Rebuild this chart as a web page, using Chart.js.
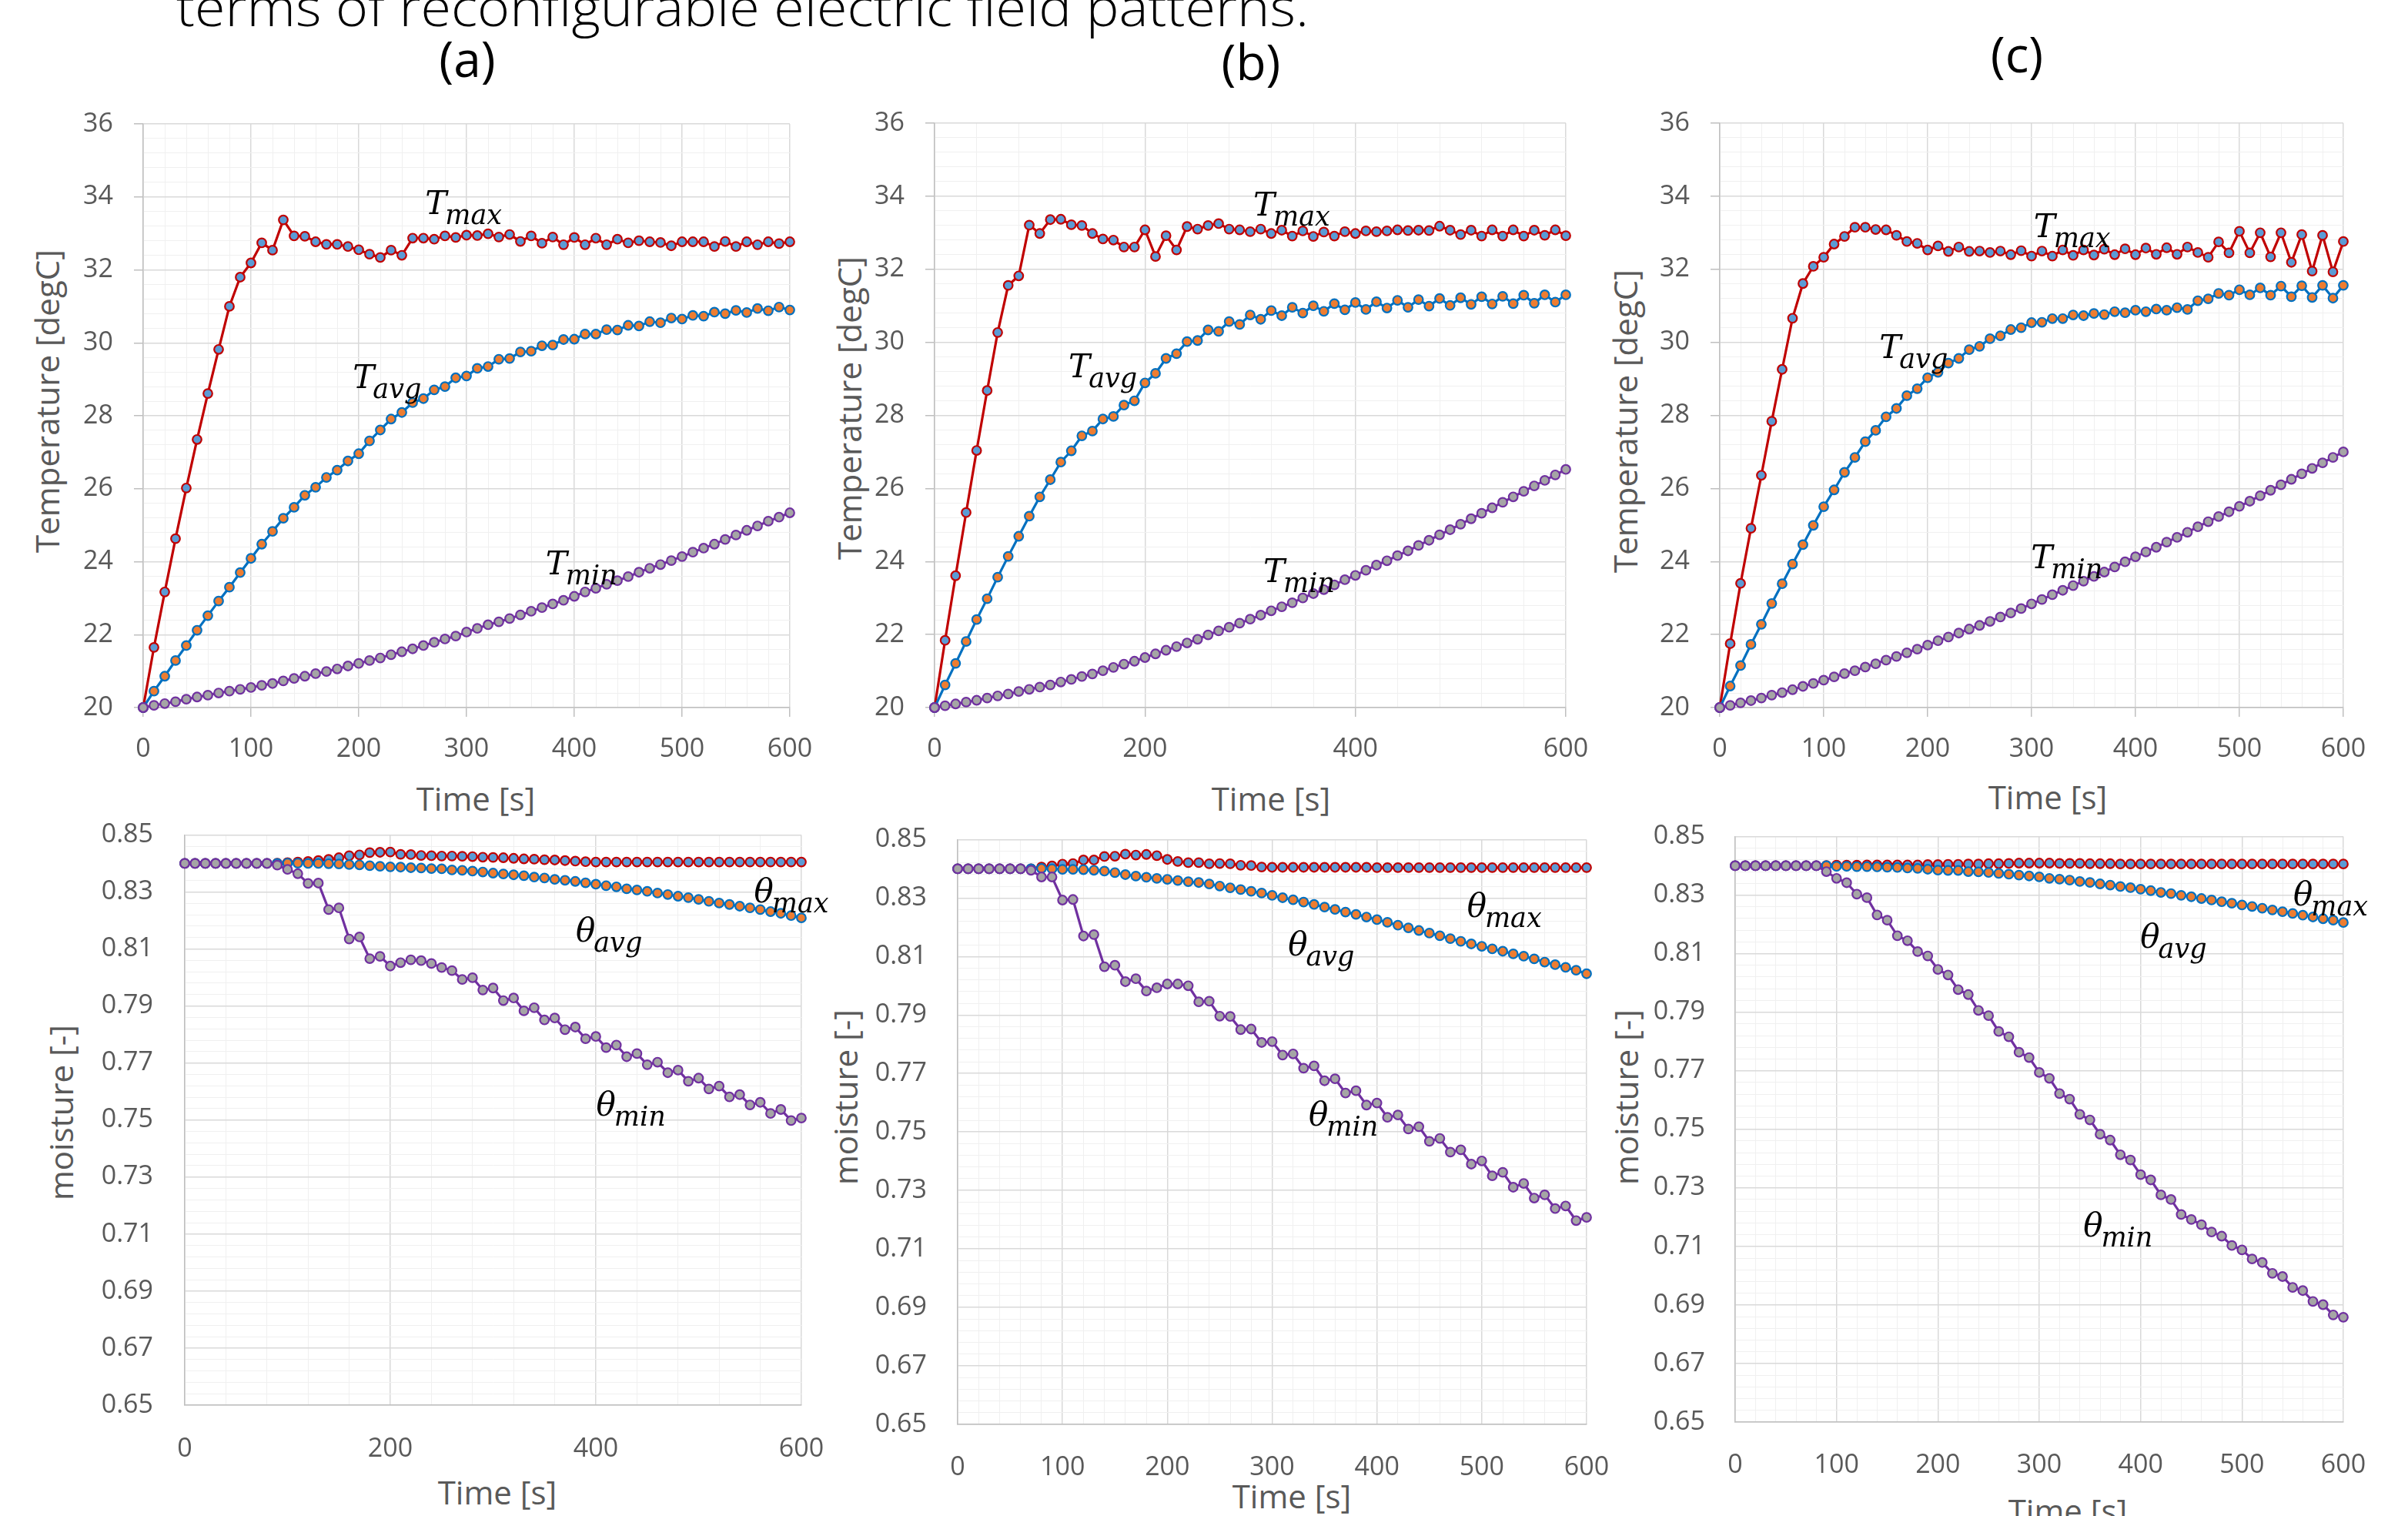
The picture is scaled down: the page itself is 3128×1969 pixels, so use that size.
<!DOCTYPE html>
<html>
<head>
<meta charset="utf-8">
<script src="https://cdn.jsdelivr.net/npm/chart.js@4.4.1/dist/chart.umd.min.js"></script>
<style>
  html, body { margin: 0; padding: 0; background: #fff; width: 3128px; height: 1969px; overflow: hidden; }
  canvas { position: absolute; }
  .txt { position: absolute; white-space: nowrap; font-family: "Open Sans"; color: #595959; font-size: 42px; line-height: 1; transform: translate(-50%, -50%); }
  .rot { transform: translate(-50%, -50%) rotate(-90deg); }
  .lbl { position: absolute; white-space: nowrap; font-family: "Open Sans"; color: #000; font-size: 64px; line-height: 1; transform: translate(-50%, -50%); }
  #head { position: absolute; left: 229px; top: -26px; white-space: nowrap; font-family: "Open Sans"; font-weight: 300; color: #000; font-size: 68px; line-height: 1; transform-origin: 0 0; }
</style>
</head>
<body>
<div id="head">terms of reconfigurable electric field patterns.</div>
<div class="lbl" style="left:607px;top:76px">(a)</div>
<div class="lbl" style="left:1625px;top:80px">(b)</div>
<div class="lbl" style="left:2620px;top:70px">(c)</div>

<div class="txt rot" style="left:61px;top:521px">Temperature [degC]</div>
<div class="txt" style="left:618px;top:1037px">Time [s]</div>
<div class="txt rot" style="left:1103px;top:530px">Temperature [degC]</div>
<div class="txt" style="left:1651px;top:1037px">Time [s]</div>
<div class="txt rot" style="left:2111px;top:547px">Temperature [degC]</div>
<div class="txt" style="left:2660px;top:1035px">Time [s]</div>

<div class="txt rot" style="left:79px;top:1445px">moisture [-]</div>
<div class="txt" style="left:646px;top:1938px">Time [s]</div>
<div class="txt rot" style="left:1098px;top:1425px">moisture [-]</div>
<div class="txt" style="left:1678px;top:1943px">Time [s]</div>
<div class="txt rot" style="left:2112px;top:1425px">moisture [-]</div>
<div class="txt" style="left:2686px;top:1962px">Time [s]</div>

<script>
// time axis (s)
const time = [0, 10, 20, 30, 40, 50, 60, 70, 80, 90, 100, 110, 120, 130, 140, 150, 160, 170, 180, 190,
  200, 210, 220, 230, 240, 250, 260, 270, 280, 290, 300, 310, 320, 330, 340, 350, 360, 370, 380, 390,
  400, 410, 420, 430, 440, 450, 460, 470, 480, 490, 500, 510, 520, 530, 540, 550, 560, 570, 580, 590, 600];

// temperature, case (a)
const tMaxA = [20, 21.65, 23.17, 24.63, 26.02, 27.35, 28.61, 29.82, 31.0, 31.8, 32.19, 32.74, 32.54, 33.37, 32.93, 32.92, 32.77, 32.70, 32.70, 32.64,
  32.55, 32.43, 32.34, 32.54, 32.40, 32.87, 32.87, 32.84, 32.93, 32.89, 32.95, 32.94, 32.99, 32.90, 32.97, 32.78, 32.93, 32.73, 32.90, 32.69,
  32.89, 32.69, 32.87, 32.69, 32.84, 32.74, 32.80, 32.77, 32.75, 32.66, 32.77, 32.77, 32.77, 32.64, 32.78, 32.64, 32.77, 32.69, 32.77, 32.72, 32.77];
const tAvgA = [20, 20.45, 20.86, 21.29, 21.70, 22.12, 22.52, 22.92, 23.30, 23.70, 24.09, 24.48, 24.83, 25.19, 25.49, 25.82, 26.04, 26.31, 26.51, 26.76,
  26.96, 27.31, 27.61, 27.91, 28.09, 28.36, 28.47, 28.71, 28.80, 29.04, 29.09, 29.30, 29.35, 29.55, 29.57, 29.75, 29.77, 29.92, 29.94, 30.09,
  30.10, 30.24, 30.24, 30.36, 30.35, 30.48, 30.46, 30.58, 30.55, 30.68, 30.65, 30.75, 30.73, 30.84, 30.80, 30.89, 30.83, 30.94, 30.88, 30.98, 30.90];
const tMinA = [20, 20.06, 20.11, 20.16, 20.23, 20.29, 20.34, 20.40, 20.45, 20.50, 20.55, 20.61, 20.66, 20.73, 20.80, 20.86, 20.93, 20.99, 21.06, 21.14,
  21.21, 21.29, 21.36, 21.45, 21.53, 21.61, 21.70, 21.79, 21.88, 21.96, 22.07, 22.17, 22.27, 22.35, 22.44, 22.54, 22.64, 22.74, 22.84, 22.94,
  23.05, 23.17, 23.27, 23.38, 23.48, 23.59, 23.71, 23.82, 23.92, 24.03, 24.14, 24.26, 24.37, 24.48, 24.61, 24.73, 24.86, 24.98, 25.11, 25.22, 25.34];

// temperature, case (b)
const tMaxB = [20, 21.84, 23.61, 25.34, 27.04, 28.68, 30.27, 31.56, 31.82, 33.21, 32.98, 33.36, 33.37, 33.22, 33.20, 32.98, 32.83, 32.80, 32.61, 32.61,
  33.08, 32.35, 32.92, 32.53, 33.17, 33.10, 33.20, 33.25, 33.10, 33.08, 33.03, 33.10, 32.98, 33.07, 32.91, 33.05, 32.90, 33.02, 32.91, 33.03,
  32.98, 33.05, 33.03, 33.05, 33.08, 33.06, 33.07, 33.06, 33.18, 33.07, 32.95, 33.07, 32.91, 33.08, 32.91, 33.08, 32.91, 33.07, 32.93, 33.08, 32.92];
const tAvgB = [20, 20.62, 21.21, 21.81, 22.41, 22.98, 23.57, 24.14, 24.69, 25.24, 25.77, 26.24, 26.72, 27.03, 27.44, 27.57, 27.90, 27.97, 28.28, 28.40,
  28.89, 29.15, 29.56, 29.69, 30.02, 30.05, 30.34, 30.30, 30.57, 30.49, 30.75, 30.63, 30.87, 30.73, 30.96, 30.80, 31.00, 30.85, 31.06, 30.89,
  31.09, 30.90, 31.11, 30.94, 31.15, 30.96, 31.17, 30.99, 31.20, 31.01, 31.22, 31.04, 31.25, 31.05, 31.26, 31.06, 31.29, 31.07, 31.30, 31.10, 31.30];
const tMinB = [20, 20.05, 20.10, 20.15, 20.20, 20.26, 20.32, 20.37, 20.44, 20.50, 20.56, 20.62, 20.70, 20.77, 20.85, 20.92, 21.01, 21.10, 21.19, 21.27,
  21.37, 21.47, 21.57, 21.67, 21.77, 21.87, 21.99, 22.10, 22.20, 22.31, 22.42, 22.53, 22.65, 22.76, 22.87, 23.00, 23.12, 23.23, 23.36, 23.50,
  23.62, 23.76, 23.90, 24.02, 24.16, 24.29, 24.44, 24.58, 24.73, 24.87, 25.02, 25.17, 25.32, 25.47, 25.62, 25.77, 25.92, 26.07, 26.22, 26.37, 26.52];

// temperature, case (c)
const tMaxC = [20, 21.75, 23.40, 24.91, 26.36, 27.84, 29.26, 30.66, 31.61, 32.08, 32.33, 32.69, 32.90, 33.15, 33.15, 33.09, 33.08, 32.93, 32.76, 32.71,
  32.53, 32.64, 32.49, 32.61, 32.49, 32.50, 32.46, 32.50, 32.40, 32.51, 32.36, 32.50, 32.36, 32.53, 32.38, 32.53, 32.39, 32.55, 32.40, 32.56,
  32.40, 32.58, 32.41, 32.59, 32.41, 32.61, 32.46, 32.33, 32.75, 32.45, 33.04, 32.45, 33.00, 32.34, 33.00, 32.19, 32.95, 31.95, 32.93, 31.93, 32.76];
const tAvgC = [20, 20.59, 21.15, 21.73, 22.28, 22.85, 23.39, 23.93, 24.46, 24.99, 25.50, 25.96, 26.44, 26.85, 27.28, 27.59, 27.96, 28.19, 28.54, 28.73,
  29.03, 29.18, 29.43, 29.56, 29.80, 29.89, 30.10, 30.18, 30.35, 30.40, 30.54, 30.55, 30.65, 30.65, 30.75, 30.73, 30.79, 30.76, 30.84, 30.81,
  30.88, 30.84, 30.91, 30.88, 30.95, 30.90, 31.14, 31.19, 31.34, 31.29, 31.44, 31.30, 31.49, 31.29, 31.54, 31.25, 31.55, 31.23, 31.56, 31.21, 31.56];
const tMinC = [20, 20.06, 20.13, 20.19, 20.26, 20.34, 20.41, 20.49, 20.58, 20.66, 20.75, 20.84, 20.93, 21.01, 21.11, 21.20, 21.30, 21.40, 21.50, 21.60,
  21.71, 21.83, 21.93, 22.04, 22.15, 22.25, 22.36, 22.48, 22.59, 22.71, 22.84, 22.96, 23.09, 23.21, 23.34, 23.46, 23.59, 23.71, 23.85, 23.99,
  24.13, 24.26, 24.39, 24.53, 24.66, 24.80, 24.95, 25.09, 25.23, 25.36, 25.51, 25.65, 25.80, 25.95, 26.10, 26.25, 26.40, 26.55, 26.70, 26.85, 27.00];

// moisture, case (a)
const mMaxA = [0.84, 0.84, 0.84, 0.84, 0.84, 0.84, 0.84, 0.84, 0.84, 0.8401, 0.8403, 0.8405, 0.8407, 0.8410, 0.8414, 0.8420, 0.8427, 0.8430, 0.8438, 0.8439,
  0.8440, 0.8432, 0.8431, 0.8428, 0.8427, 0.8426, 0.8426, 0.8425, 0.8424, 0.8422, 0.8421, 0.8420, 0.8418, 0.8416, 0.8415, 0.8413, 0.8412, 0.8410, 0.8408, 0.8406,
  0.8405, 0.8405, 0.8405, 0.8405, 0.8405, 0.8405, 0.8405, 0.8405, 0.8405, 0.8405, 0.8405, 0.8405, 0.8405, 0.8405, 0.8405, 0.8405, 0.8405, 0.8405, 0.8405, 0.8405, 0.8405];
const mAvgA = [0.84, 0.84, 0.84, 0.84, 0.84, 0.84, 0.84, 0.84, 0.84, 0.84, 0.8401, 0.8401, 0.8400, 0.8400, 0.8399, 0.8398, 0.8396, 0.8395, 0.8392, 0.8390,
  0.8388, 0.8387, 0.8385, 0.8384, 0.8382, 0.8381, 0.8377, 0.8376, 0.8373, 0.8370, 0.8366, 0.8363, 0.8360, 0.8357, 0.8352, 0.8349, 0.8344, 0.8341, 0.8337, 0.8332,
  0.8327, 0.8322, 0.8318, 0.8311, 0.8307, 0.8302, 0.8296, 0.8291, 0.8285, 0.8280, 0.8274, 0.8267, 0.8261, 0.8256, 0.8250, 0.8244, 0.8238, 0.8231, 0.8225, 0.8217, 0.8209];
const mMinA = [0.84, 0.84, 0.84, 0.84, 0.84, 0.84, 0.84, 0.84, 0.84, 0.8394, 0.8379, 0.8364, 0.8330, 0.8331, 0.8238, 0.8244, 0.8135, 0.8142, 0.8066, 0.8074,
  0.8040, 0.8052, 0.8062, 0.8059, 0.8049, 0.8035, 0.8024, 0.7993, 0.7999, 0.7956, 0.7963, 0.7919, 0.7928, 0.7883, 0.7894, 0.7851, 0.7858, 0.7817, 0.7826, 0.7785,
  0.7793, 0.7754, 0.7763, 0.7722, 0.7733, 0.7694, 0.7703, 0.7666, 0.7675, 0.7636, 0.7647, 0.7609, 0.7619, 0.7581, 0.7589, 0.7553, 0.7562, 0.7523, 0.7537, 0.7498, 0.7507];

// moisture, case (b)
const mMaxB = [0.84, 0.84, 0.84, 0.84, 0.84, 0.84, 0.84, 0.84, 0.8406, 0.8410, 0.8416, 0.8418, 0.8430, 0.8430, 0.8442, 0.8443, 0.8450, 0.8447, 0.8449, 0.8445,
  0.8432, 0.8425, 0.8421, 0.8421, 0.8417, 0.8418, 0.8417, 0.8412, 0.8411, 0.8406, 0.8405, 0.8405, 0.8405, 0.8405, 0.8405, 0.8405, 0.8405, 0.8405, 0.8405, 0.8405,
  0.8404, 0.8404, 0.8404, 0.8404, 0.8404, 0.8404, 0.8404, 0.8404, 0.8404, 0.8404, 0.8404, 0.8404, 0.8404, 0.8404, 0.8404, 0.8404, 0.8404, 0.8404, 0.8404, 0.8404, 0.8404];
const mAvgB = [0.84, 0.84, 0.84, 0.84, 0.84, 0.84, 0.84, 0.84, 0.8401, 0.8400, 0.8398, 0.8398, 0.8397, 0.8395, 0.8392, 0.8387, 0.8380, 0.8375, 0.8371, 0.8367,
  0.8364, 0.8360, 0.8356, 0.8353, 0.8348, 0.8341, 0.8335, 0.8329, 0.8323, 0.8317, 0.8309, 0.8301, 0.8294, 0.8286, 0.8278, 0.8269, 0.8261, 0.8252, 0.8244, 0.8235,
  0.8226, 0.8217, 0.8207, 0.8198, 0.8189, 0.8180, 0.8171, 0.8161, 0.8152, 0.8143, 0.8135, 0.8126, 0.8118, 0.8109, 0.8101, 0.8092, 0.8081, 0.8072, 0.8063, 0.8053, 0.8041];
const mMinB = [0.84, 0.84, 0.84, 0.84, 0.84, 0.84, 0.84, 0.8395, 0.8372, 0.8372, 0.8293, 0.8295, 0.8170, 0.8175, 0.8065, 0.8070, 0.8014, 0.8024, 0.7982, 0.7993,
  0.8006, 0.8006, 0.8000, 0.7945, 0.7947, 0.7896, 0.7895, 0.7850, 0.7852, 0.7806, 0.7809, 0.7763, 0.7767, 0.7718, 0.7726, 0.7675, 0.7682, 0.7633, 0.7641, 0.7592,
  0.7599, 0.7550, 0.7558, 0.7510, 0.7518, 0.7468, 0.7478, 0.7431, 0.7439, 0.7390, 0.7401, 0.7350, 0.7362, 0.7311, 0.7324, 0.7274, 0.7285, 0.7238, 0.7247, 0.7197, 0.7208];

// moisture, case (c)
const mMaxC = [0.84, 0.84, 0.84, 0.84, 0.84, 0.84, 0.84, 0.84, 0.84, 0.8401, 0.8402, 0.8402, 0.8402, 0.8403, 0.8403, 0.8403, 0.8403, 0.8403, 0.8403, 0.8404,
  0.8404, 0.8405, 0.8405, 0.8406, 0.8406, 0.8407, 0.8407, 0.8408, 0.8409, 0.8409, 0.8409, 0.8409, 0.8408, 0.8408, 0.8408, 0.8407, 0.8407, 0.8407, 0.8406, 0.8406,
  0.8406, 0.8406, 0.8406, 0.8406, 0.8406, 0.8406, 0.8406, 0.8406, 0.8406, 0.8406, 0.8406, 0.8406, 0.8406, 0.8406, 0.8406, 0.8406, 0.8406, 0.8406, 0.8406, 0.8406, 0.8406];
const mAvgC = [0.84, 0.84, 0.84, 0.84, 0.84, 0.84, 0.84, 0.84, 0.84, 0.8400, 0.8398, 0.8398, 0.8397, 0.8397, 0.8396, 0.8395, 0.8394, 0.8392, 0.8391, 0.8388,
  0.8385, 0.8384, 0.8384, 0.8380, 0.8379, 0.8377, 0.8374, 0.8371, 0.8368, 0.8365, 0.8362, 0.8357, 0.8354, 0.8351, 0.8346, 0.8343, 0.8338, 0.8334, 0.8329, 0.8325,
  0.8320, 0.8315, 0.8309, 0.8305, 0.8299, 0.8294, 0.8288, 0.8283, 0.8277, 0.8272, 0.8266, 0.8261, 0.8255, 0.8249, 0.8243, 0.8237, 0.8231, 0.8225, 0.8219, 0.8214, 0.8206];
const mMinC = [0.84, 0.84, 0.84, 0.84, 0.84, 0.84, 0.84, 0.84, 0.84, 0.8380, 0.8357, 0.8342, 0.8303, 0.8291, 0.8232, 0.8214, 0.8161, 0.8144, 0.8107, 0.8092,
  0.8046, 0.8027, 0.7977, 0.7960, 0.7906, 0.7888, 0.7834, 0.7816, 0.7763, 0.7745, 0.7694, 0.7674, 0.7622, 0.7603, 0.7551, 0.7532, 0.7483, 0.7463, 0.7413, 0.7395,
  0.7345, 0.7327, 0.7276, 0.7260, 0.7209, 0.7192, 0.7174, 0.7149, 0.7135, 0.7103, 0.7088, 0.7057, 0.7045, 0.7008, 0.6997, 0.6960, 0.6949, 0.6912, 0.6901, 0.6866, 0.6858];

// axis ranges / tick spacing
const tempRange = [20, 36], tempMajor = 2, tempMinor = 0.4;
const moistRange = [0.65, 0.85], moistMajor = 0.02, moistMinor = 0.004;

// curve labels (drawn on the plot, in data units)
const annotPlugin = {
  id: 'annot',
  afterDraw(chart, args, opts) {
    const ctx = chart.ctx, xs = chart.scales.x, ys = chart.scales.y;
    ctx.save();
    ctx.fillStyle = '#000';
    ctx.textBaseline = 'alphabetic';
    ctx.textAlign = 'left';
    (opts.items || []).forEach(it => {
      const px = xs.getPixelForValue(it.x), py = ys.getPixelForValue(it.y);
      ctx.font = 'italic 42px "DejaVu Serif"';
      ctx.fillText(it.base, px, py);
      const w = ctx.measureText(it.base).width;
      ctx.font = 'italic 35px "DejaVu Serif"';
      ctx.fillText(it.sub, px + w - 2, py + 13);
    });
    ctx.restore();
  }
};

function isMult(v, step) {
  const r = v / step;
  return Math.abs(r - Math.round(r)) < 1e-6;
}

const ML = 130, MT = 50, MR = 150, MB = 110;

function makePanel(p) {
  const w = p.R - p.L + ML + MR, h = p.B - p.T + MT + MB;
  const cv = document.createElement('canvas');
  cv.width = w; cv.height = h;
  cv.style.left = (p.L - ML) + 'px';
  cv.style.top = (p.T - MT) + 'px';
  cv.style.width = w + 'px';
  cv.style.height = h + 'px';
  document.body.appendChild(cv);

  const ds = (vals, line, fill) => ({
    data: time.map((t, i) => ({ x: t, y: vals[i] })),
    borderColor: line,
    borderWidth: 3.2,
    pointRadius: 5.8,
    pointBorderWidth: 2.2,
    pointBackgroundColor: fill,
    pointBorderColor: line,
    tension: 0,
    clip: false
  });

  const tickFont = { family: 'Open Sans', size: 34 };
  const yMajor = p.yMajor, xMajor = p.xMajor;

  new Chart(cv, {
    type: 'line',
    data: {
      datasets: [
        ds(p.min, '#7030A0', '#A5A5A5'),
        ds(p.avg, '#0070C0', '#ED7D31'),
        ds(p.max, '#C00000', '#5B9BD5')
      ]
    },
    options: {
      responsive: false,
      animation: false,
      devicePixelRatio: 1,
      layout: { autoPadding: false, padding: { left: 0, top: MT, right: MR, bottom: 0 } },
      plugins: { legend: { display: false }, tooltip: { enabled: false }, annot: { items: p.labels } },
      scales: {
        x: {
          type: 'linear', min: 0, max: 600,
          afterFit: s => { s.height = MB; },
          ticks: {
            stepSize: p.xMinor, autoSkip: false, maxRotation: 0, minRotation: 0,
            padding: p.xPad, color: '#595959', font: tickFont,
            callback: v => isMult(v, xMajor) ? String(v) : ''
          },
          grid: {
            color: c => isMult(c.tick.value, xMajor) ? '#D9D9D9' : '#F0F0F0',
            lineWidth: c => isMult(c.tick.value, xMajor) ? 1.5 : 1,
            drawTicks: p.ticks, tickLength: 12,
            tickColor: c => isMult(c.tick.value, xMajor) ? '#BFBFBF' : 'rgba(0,0,0,0)'
          },
          border: { color: '#BFBFBF', width: 1.5 }
        },
        y: {
          type: 'linear', min: p.yRange[0], max: p.yRange[1],
          afterFit: s => { s.width = ML; },
          ticks: {
            stepSize: p.yMinor, autoSkip: false,
            padding: p.yPad, color: '#595959', font: tickFont,
            callback: v => isMult(v - p.yRange[0], yMajor) ? v.toFixed(p.dec) : ''
          },
          grid: {
            color: c => isMult(c.tick.value - p.yRange[0], yMajor) ? '#D9D9D9' : '#F0F0F0',
            lineWidth: c => isMult(c.tick.value - p.yRange[0], yMajor) ? 1.5 : 1,
            drawTicks: p.ticks, tickLength: 12,
            tickColor: c => isMult(c.tick.value - p.yRange[0], yMajor) ? '#BFBFBF' : 'rgba(0,0,0,0)'
          },
          border: { color: '#BFBFBF', width: 1.5 }
        }
      }
    },
    plugins: [annotPlugin]
  });
}

const topBase = { yRange: tempRange, yMajor: tempMajor, yMinor: tempMinor, dec: 0, ticks: true, xPad: 22, yPad: 27 };
const botBase = { yRange: moistRange, yMajor: moistMajor, yMinor: moistMinor, dec: 2, ticks: false, xPad: 36, yPad: 40 };

makePanel(Object.assign({}, topBase, {
  L: 186, T: 161, R: 1026, B: 919, xMajor: 100, xMinor: 20,
  max: tMaxA, avg: tAvgA, min: tMinA,
  labels: [
    { base: 'T', sub: 'max', x: 261.6, y: 33.53 },
    { base: 'T', sub: 'avg', x: 194.5, y: 28.76 },
    { base: 'T', sub: 'min', x: 373.4, y: 23.66 }
  ]
}));
makePanel(Object.assign({}, topBase, {
  L: 1214, T: 160, R: 2034, B: 919, xMajor: 200, xMinor: 40,
  max: tMaxB, avg: tAvgB, min: tMinB,
  labels: [
    { base: 'T', sub: 'max', x: 302.9, y: 33.48 },
    { base: 'T', sub: 'avg', x: 127.4, y: 29.05 },
    { base: 'T', sub: 'min', x: 312.5, y: 23.43 }
  ]
}));
makePanel(Object.assign({}, topBase, {
  L: 2234, T: 160, R: 3044, B: 919, xMajor: 100, xMinor: 20,
  max: tMaxC, avg: tAvgC, min: tMinC,
  labels: [
    { base: 'T', sub: 'max', x: 302, y: 32.88 },
    { base: 'T', sub: 'avg', x: 153.5, y: 29.56 },
    { base: 'T', sub: 'min', x: 299.5, y: 23.81 }
  ]
}));
makePanel(Object.assign({}, botBase, {
  L: 240, T: 1073, R: 1041, B: 1825, xMajor: 200, xMinor: 40, yPad: 41, xPad: 37,
  max: mMaxA, avg: mAvgA, min: mMinA,
  labels: [
    { base: '\u03B8', sub: 'max', x: 553.9, y: 0.8264 },
    { base: '\u03B8', sub: 'avg', x: 380.5, y: 0.8126 },
    { base: '\u03B8', sub: 'min', x: 400.4, y: 0.7515 }
  ]
}));
makePanel(Object.assign({}, botBase, {
  L: 1244, T: 1080, R: 2061, B: 1850, xMajor: 100, xMinor: 20,
  max: mMaxB, avg: mAvgB, min: mMinB,
  labels: [
    { base: '\u03B8', sub: 'max', x: 485.9, y: 0.8235 },
    { base: '\u03B8', sub: 'avg', x: 315.2, y: 0.8104 },
    { base: '\u03B8', sub: 'min', x: 334.9, y: 0.7522 }
  ]
}));
makePanel(Object.assign({}, botBase, {
  L: 2254, T: 1077, R: 3044, B: 1847, xMajor: 100, xMinor: 20, yPad: 39,
  max: mMaxC, avg: mAvgC, min: mMinC,
  labels: [
    { base: '\u03B8', sub: 'max', x: 550.6, y: 0.8265 },
    { base: '\u03B8', sub: 'avg', x: 399.7, y: 0.8119 },
    { base: '\u03B8', sub: 'min', x: 343.4, y: 0.7135 }
  ]
}));

// stretch the cut-off sentence at the top to its width in the source
const head = document.getElementById('head');
const hw = head.getBoundingClientRect().width;
head.style.transform = 'scaleX(' + (1471 / hw) + ')';
</script>
</body>
</html>
